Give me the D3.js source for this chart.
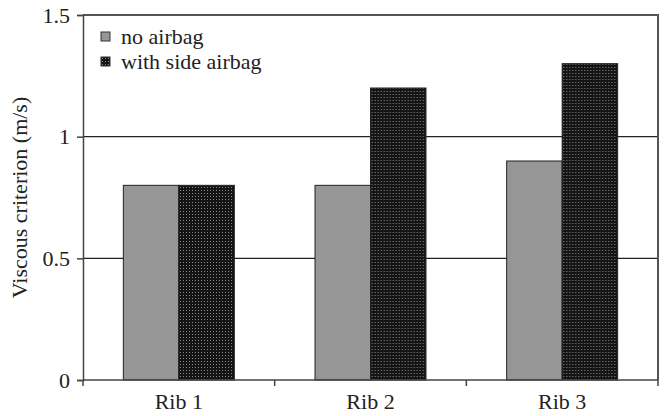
<!DOCTYPE html>
<html>
<head>
<meta charset="utf-8">
<script src="https://cdn.jsdelivr.net/npm/d3@7"></script>
<style>
  body { margin: 0; background: #fff; }
  svg text { font-family: "Liberation Serif", "DejaVu Serif", serif; fill: #222; }
</style>
</head>
<body>
<svg id="chart" width="666" height="416"></svg>
<script>
var categories = ["Rib 1", "Rib 2", "Rib 3"];
var seriesNames = ["no airbag", "with side airbag"];
var noAirbag = [0.8, 0.8, 0.9];
var sideAirbag = [0.8, 1.2, 1.3];
var yTicks = [0, 0.5, 1, 1.5];
var yTickLabels = ["0", "0.5", "1", "1.5"];

var margin = {top: 15, right: 8, bottom: 36, left: 83};
var width = 666, height = 416;
var plotW = width - margin.left - margin.right;
var plotH = height - margin.top - margin.bottom;

var svg = d3.select("#chart");

// dotted fill used for the side airbag bars
var defs = svg.append("defs");
var pat = defs.append("pattern")
    .attr("id", "dots")
    .attr("patternUnits", "userSpaceOnUse")
    .attr("width", 3)
    .attr("height", 3);
pat.append("rect").attr("width", 3).attr("height", 3).attr("fill", "#141414");
pat.append("rect").attr("x", 1).attr("y", 1).attr("width", 1).attr("height", 1).attr("fill", "#8a8a8a");

var fills = ["#969696", "url(#dots)"];

var g = svg.append("g").attr("transform", "translate(" + margin.left + "," + margin.top + ")");

var x = d3.scaleBand().domain(categories).range([0, plotW]);
var xInner = d3.scaleBand().domain(seriesNames).range([0, x.bandwidth()]).paddingOuter(0.727);
var y = d3.scaleLinear().domain([0, 1.5]).range([plotH, 0]);

// gridlines
g.selectAll(".grid")
    .data([0.5, 1])
    .enter().append("line")
    .attr("x1", 0).attr("x2", plotW)
    .attr("y1", function(d) { return y(d); })
    .attr("y2", function(d) { return y(d); })
    .attr("stroke", "#222")
    .attr("stroke-width", 1.3);

// bars
var rows = categories.map(function(c, i) {
    return [
        {cat: c, s: seriesNames[0], v: noAirbag[i], k: 0},
        {cat: c, s: seriesNames[1], v: sideAirbag[i], k: 1}
    ];
});
var groups = g.selectAll(".cat")
    .data(rows)
    .enter().append("g")
    .attr("transform", function(d) { return "translate(" + x(d[0].cat) + ",0)"; });
groups.selectAll("rect")
    .data(function(d) { return d; })
    .enter().append("rect")
    .attr("x", function(d) { return xInner(d.s); })
    .attr("y", function(d) { return y(d.v); })
    .attr("width", xInner.bandwidth())
    .attr("height", function(d) { return y(0) - y(d.v); })
    .attr("fill", function(d) { return fills[d.k]; })
    .attr("stroke", "#222")
    .attr("stroke-width", 1);

// frame (top and right)
g.append("path")
    .attr("d", "M0,0H" + plotW + "V" + plotH)
    .attr("fill", "none")
    .attr("stroke", "#555")
    .attr("stroke-width", 2);

// y axis
var yAxis = d3.axisLeft(y)
    .tickValues(yTicks)
    .tickFormat(function(d, i) { return yTickLabels[i]; })
    .tickSize(6)
    .tickPadding(7);
var ya = g.append("g").call(yAxis);
ya.select(".domain").attr("stroke", "#444").attr("stroke-width", 1.5);
ya.selectAll(".tick line").attr("stroke", "#444").attr("stroke-width", 1.5);
ya.selectAll("text").attr("font-size", 22).attr("font-family", "Liberation Serif").attr("fill", "#222");

// x axis: ticks at category boundaries
var xa = g.append("g").attr("transform", "translate(0," + plotH + ")");
xa.append("line").attr("x1", 0).attr("x2", plotW).attr("stroke", "#444").attr("stroke-width", 1.5);
var bounds = categories.map(function(c) { return x(c); }).concat([plotW]);
xa.selectAll(".xt")
    .data(bounds)
    .enter().append("line")
    .attr("x1", function(d) { return d; }).attr("x2", function(d) { return d; })
    .attr("y1", 0).attr("y2", 6)
    .attr("stroke", "#444").attr("stroke-width", 1.5);
xa.selectAll(".xl")
    .data(categories)
    .enter().append("text")
    .attr("x", function(d) { return x(d) + x.bandwidth() / 2; })
    .attr("y", 29)
    .attr("text-anchor", "middle")
    .attr("font-size", 22)
    .text(function(d) { return d; });

// y axis title
svg.append("text")
    .attr("transform", "translate(27," + (margin.top + plotH / 2) + ") rotate(-90)")
    .attr("text-anchor", "middle")
    .attr("font-size", 22)
    .text("Viscous criterion (m/s)");

// legend
var legend = g.append("g").attr("transform", "translate(18,17)");
var items = legend.selectAll(".item")
    .data(seriesNames)
    .enter().append("g")
    .attr("transform", function(d, i) { return "translate(0," + (i * 25) + ")"; });
items.append("rect")
    .attr("width", 9).attr("height", 9)
    .attr("fill", function(d, i) { return fills[i]; })
    .attr("stroke", "#333")
    .attr("stroke-width", 1);
items.append("text")
    .attr("x", 20)
    .attr("y", 12)
    .attr("font-size", 22)
    .text(function(d) { return d; });
</script>
</body>
</html>
